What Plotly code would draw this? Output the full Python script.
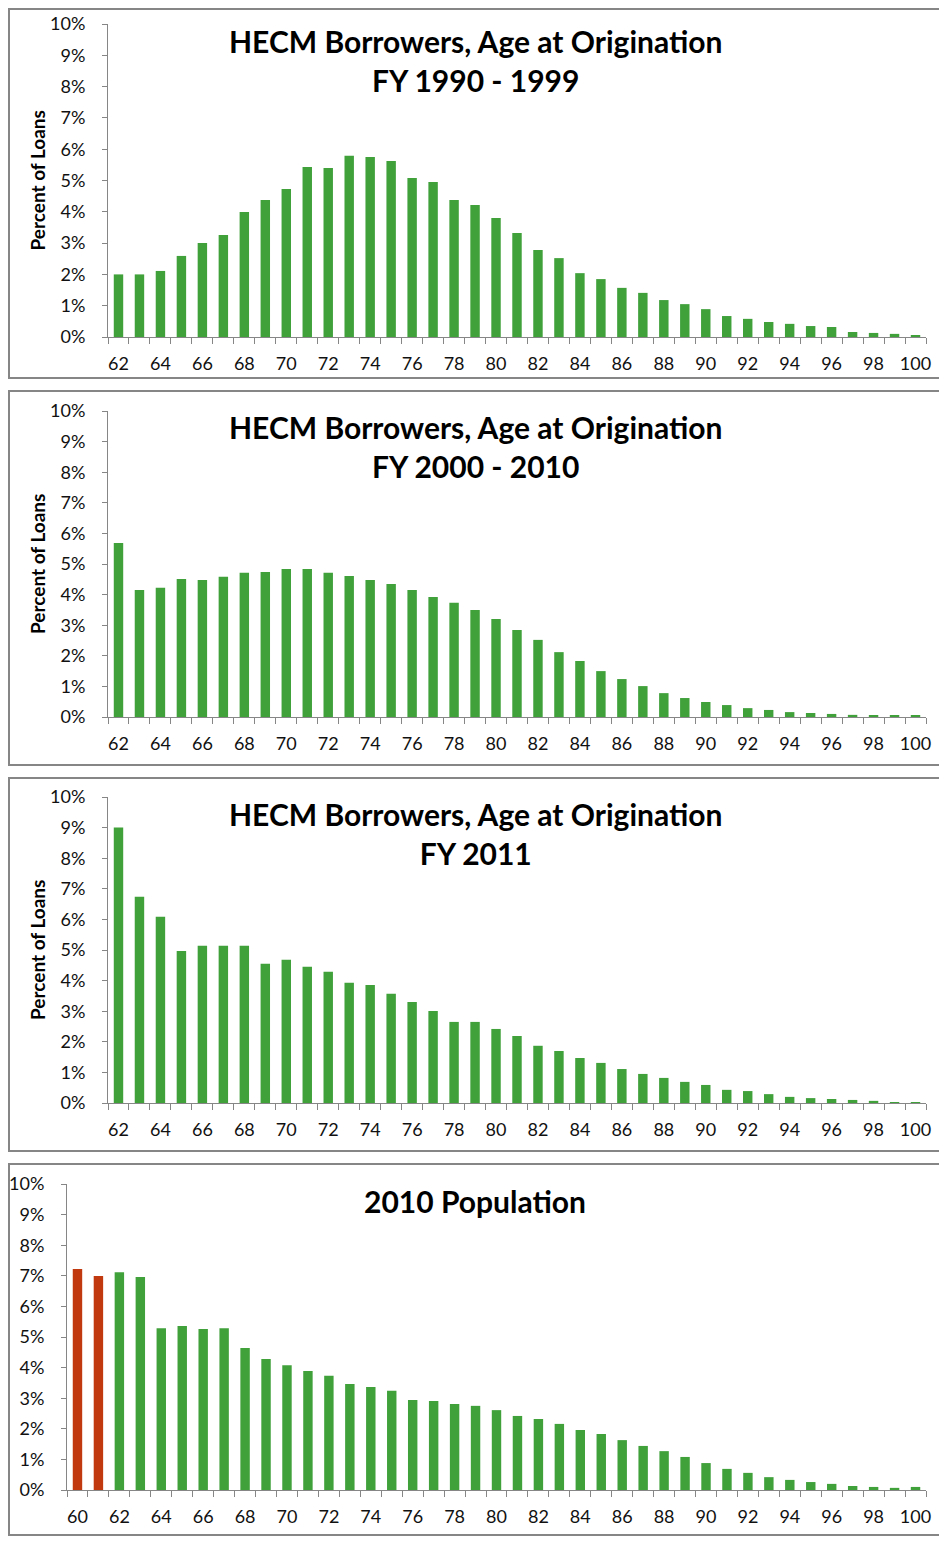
import plotly.graph_objects as go

# page body has an 8px margin, so the figure is sized to fit the 947x1544 window
OFF = 8
W, H = 947 - OFF, 1544 - 2 * OFF

ages_hecm = list(range(62, 101))
ages_pop = list(range(60, 101))

fy1990_1999 = [2.00, 2.00, 2.11, 2.59, 3.00, 3.26, 3.99, 4.38, 4.73, 5.43, 5.40, 5.79, 5.75,
               5.62, 5.08, 4.95, 4.38, 4.22, 3.80, 3.32, 2.78, 2.52, 2.04, 1.85, 1.57, 1.41,
               1.18, 1.05, 0.89, 0.67, 0.58, 0.48, 0.42, 0.35, 0.32, 0.16, 0.13, 0.10, 0.06]
fy2000_2010 = [5.69, 4.15, 4.22, 4.51, 4.48, 4.58, 4.71, 4.74, 4.84, 4.84, 4.71, 4.61, 4.48,
               4.35, 4.15, 3.92, 3.73, 3.50, 3.20, 2.84, 2.52, 2.12, 1.83, 1.50, 1.24, 1.01,
               0.78, 0.62, 0.49, 0.39, 0.29, 0.23, 0.16, 0.13, 0.10, 0.07, 0.04, 0.04, 0.04]
fy2011 = [9.00, 6.74, 6.09, 4.97, 5.14, 5.14, 5.14, 4.55, 4.68, 4.45, 4.29, 3.93, 3.86,
          3.57, 3.30, 3.01, 2.65, 2.65, 2.42, 2.19, 1.87, 1.70, 1.47, 1.31, 1.11, 0.95,
          0.82, 0.69, 0.59, 0.43, 0.39, 0.29, 0.20, 0.16, 0.13, 0.10, 0.07, 0.03, 0.03]
pop2010 = [7.22, 6.99, 7.12, 6.96, 5.29, 5.36, 5.26, 5.29, 4.64, 4.28, 4.08, 3.89, 3.73,
           3.46, 3.37, 3.24, 2.94, 2.91, 2.81, 2.75, 2.61, 2.42, 2.32, 2.16, 1.96, 1.83,
           1.63, 1.44, 1.27, 1.08, 0.88, 0.69, 0.56, 0.42, 0.33, 0.26, 0.20, 0.13, 0.10,
           0.07, 0.10]

titles = [
    "HECM Borrowers, Age at Origination<br>FY 1990 - 1999",
    "HECM Borrowers, Age at Origination<br>FY 2000 - 2010",
    "HECM Borrowers, Age at Origination<br>FY 2011",
    "2010 Population",
]
y_title = "Percent of Loans"
y_ticks = list(range(0, 11))

GREEN = "#40A13B"
RED = "#C1390F"
GRID = "#868686"
FONT = "Lato"

# window-pixel geometry of each panel: box, plot area, centre y of first title line
panels = [
    dict(box=(9, 9, 944, 378), plot=(108, 24, 926, 337), ty=42),
    dict(box=(9, 391, 944, 765), plot=(108, 411, 926, 717), ty=428),
    dict(box=(9, 778, 944, 1151), plot=(108, 797, 926, 1103), ty=815),
    dict(box=(9, 1164, 944, 1535), plot=(67, 1184, 926, 1490), ty=1202),
]
series = [(ages_hecm, fy1990_1999), (ages_hecm, fy2000_2010), (ages_hecm, fy2011),
          (ages_pop, pop2010)]


def px(x):
    return (x - OFF) / W


def py(y):
    return 1 - (y - OFF) / H


fig = go.Figure()
shapes = []
annotations = []
for i, (p, (ages, vals), title) in enumerate(zip(panels, series, titles)):
    n = i + 1
    xa = "x" if n == 1 else f"x{n}"
    ya = "y" if n == 1 else f"y{n}"
    colors = [RED if a < 62 else GREEN for a in ages]
    fig.add_trace(go.Bar(x=ages, y=vals, marker=dict(color=colors, line=dict(width=0)),
                         width=0.45, xaxis=xa, yaxis=ya, showlegend=False))
    x0, yt, x1, yb = p["plot"]
    lo, hi = ages[0] - 0.5, ages[-1] + 0.5
    bounds = [a - 0.5 for a in ages] + [hi]
    evens = [a for a in ages if a % 2 == 0]
    xkey = "xaxis" if n == 1 else f"xaxis{n}"
    ykey = "yaxis" if n == 1 else f"yaxis{n}"
    fig.update_layout(**{
        xkey: dict(domain=[px(x0), px(x1)], anchor=ya, range=[lo, hi],
                   tickvals=evens, ticktext=[str(a) for a in evens], ticks="",
                   showline=True, linecolor=GRID, linewidth=1, showgrid=False,
                   zeroline=False, ticklabelstandoff=10, automargin=False,
                   tickfont=dict(family=FONT, size=18, color="#111"),
                   minor=dict(tickvals=bounds, ticks="outside", ticklen=6,
                              tickcolor=GRID, tickwidth=1, showgrid=False)),
        ykey: dict(domain=[py(yb), py(yt)], anchor=xa, range=[0, 10],
                   tickvals=y_ticks, ticktext=[f"{v}%" for v in y_ticks],
                   ticks="outside", ticklen=5, tickcolor=GRID, showline=True,
                   linecolor=GRID, linewidth=1, showgrid=False, zeroline=False,
                   ticklabelstandoff=13, automargin=False,
                   tickfont=dict(family=FONT, size=18, color="#111")),
    })
    bx0, by0, bx1, by1 = p["box"]
    shapes.append(dict(type="rect", xref="paper", yref="paper", x0=px(bx0), x1=px(bx1),
                       y0=py(by1), y1=py(by0), line=dict(color=GRID, width=2)))
    annotations.append(dict(xref="paper", yref="paper", x=px(475), y=py(p["ty"] - 21),
                            xanchor="center", yanchor="top", showarrow=False,
                            text=f"<b>{title}</b>",
                            font=dict(family=FONT, size=30, color="#000")))
    if n < 4:
        annotations.append(dict(xref="paper", yref="paper", x=px(37), y=py((yt + yb) / 2),
                                xanchor="center", yanchor="middle", showarrow=False,
                                textangle=-90, text=f"<b>{y_title}</b>",
                                font=dict(family=FONT, size=19, color="#000")))

fig.update_layout(width=W, height=H, margin=dict(l=0, r=0, t=0, b=0), autosize=False,
                  plot_bgcolor="white", paper_bgcolor="white", bargap=0.55,
                  shapes=shapes, annotations=annotations)
fig.write_html("out.html")
